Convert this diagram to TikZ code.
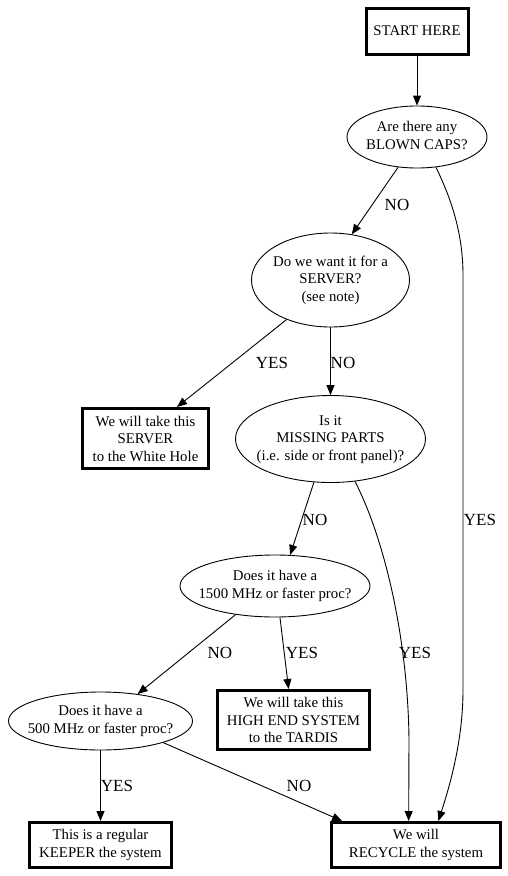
\documentclass[tikz,border=0pt]{standalone}
\usepackage{fontspec}
\setmainfont{Liberation Serif}
\usetikzlibrary{shapes.geometric,arrows.meta}
\newcommand{\etext}[1]{\makebox[0pt]{\begin{tabular}{@{}c@{}}#1\end{tabular}}}
\newcommand{\nodefnt}{\fontsize{14.8pt}{17.5pt}\selectfont}
\newcommand{\labfnt}{\fontsize{17pt}{20pt}\selectfont}
\begin{document}
\begin{tikzpicture}[x=1pt,y=-1pt,
  box/.style={draw, line width=3pt, rectangle, inner sep=0pt, font=\nodefnt, align=center},
  ell/.style={draw, line width=0.9pt, ellipse, inner sep=0pt, font=\nodefnt},
  edge/.style={line width=0.9pt, -{Triangle[length=10pt,width=8pt]}},
  lab/.style={font=\labfnt, inner sep=0pt}]
\useasboundingbox (0,0) rectangle (507,876);
% nodes
\node[box, minimum width=102pt, minimum height=46pt] (start) at (417,31) {START HERE};
\node[ell, minimum width=140pt, minimum height=62pt] (blown) at (417,137) {\etext{Are there any\\BLOWN CAPS?}};
\node[ell, minimum width=158pt, minimum height=94pt] (server) at (330.5,280) {\etext{Do we want it for a\\SERVER?\\(see note)}};
\node[box, minimum width=126pt, minimum height=60pt] (white) at (145.5,438.5) {We will take this\\SERVER\\to the White Hole};
\node[ell, minimum width=190pt, minimum height=87pt] (missing) at (330.5,439) {\etext{Is it\\MISSING PARTS\\(i.e. side or front panel)?}};
\node[ell, minimum width=190pt, minimum height=62pt] (fast) at (275,586) {\etext{Does it have a\\1500 MHz or faster proc?}};
\node[box, minimum width=152pt, minimum height=59pt] (tardis) at (293.5,720) {We will take this\\HIGH END SYSTEM\\to the TARDIS};
\node[ell, minimum width=184pt, minimum height=58pt] (slow) at (100.5,721) {\etext{Does it have a\\500 MHz or faster proc?}};
\node[box, minimum width=142pt, minimum height=45pt] (keeper) at (100.5,845) {This is a regular\\KEEPER the system};
\node[box, minimum width=169pt, minimum height=45pt] (recycle) at (416,845) {We will\\RECYCLE the system};
% connectors
\draw[edge] (start.south) -- (blown.north);
\draw[edge] (blown.238) -- (server.65);
\draw[edge] (blown.302) .. controls (452,200) and (463,235) .. (463,275) -- (463,690) .. controls (463,740) and (450,785) .. (recycle.47);
\draw[edge] (server.222) -- (white.45);
\draw[edge] (server.south) -- (missing.north);
\draw[edge] (missing.249) -- (fast.64);
\draw[edge] (missing.300) .. controls (385,540) and (408,640) .. (409,740) -- (recycle.107);
\draw[edge] (fast.216) -- (slow.36);
\draw[edge] (fast.279) -- (tardis.99);
\draw[edge] (slow.south) -- (keeper.north);
\draw[edge] (slow.341) -- (recycle.162);
% labels
\node[lab] (l1) at (397,205) {NO};
\node[lab] (l2) at (480,520) {YES};
\node[lab] (l3) at (272,363) {YES};
\node[lab] (l4) at (343,363) {NO};
\node[lab] (l5) at (315,520) {NO};
\node[lab] (l6) at (415,653) {YES};
\node[lab] (l7) at (220,653) {NO};
\node[lab] (l8) at (302,653) {YES};
\node[lab] (l9) at (117,786) {YES};
\node[lab] (l10) at (299,786) {NO};
\end{tikzpicture}
\end{document}
